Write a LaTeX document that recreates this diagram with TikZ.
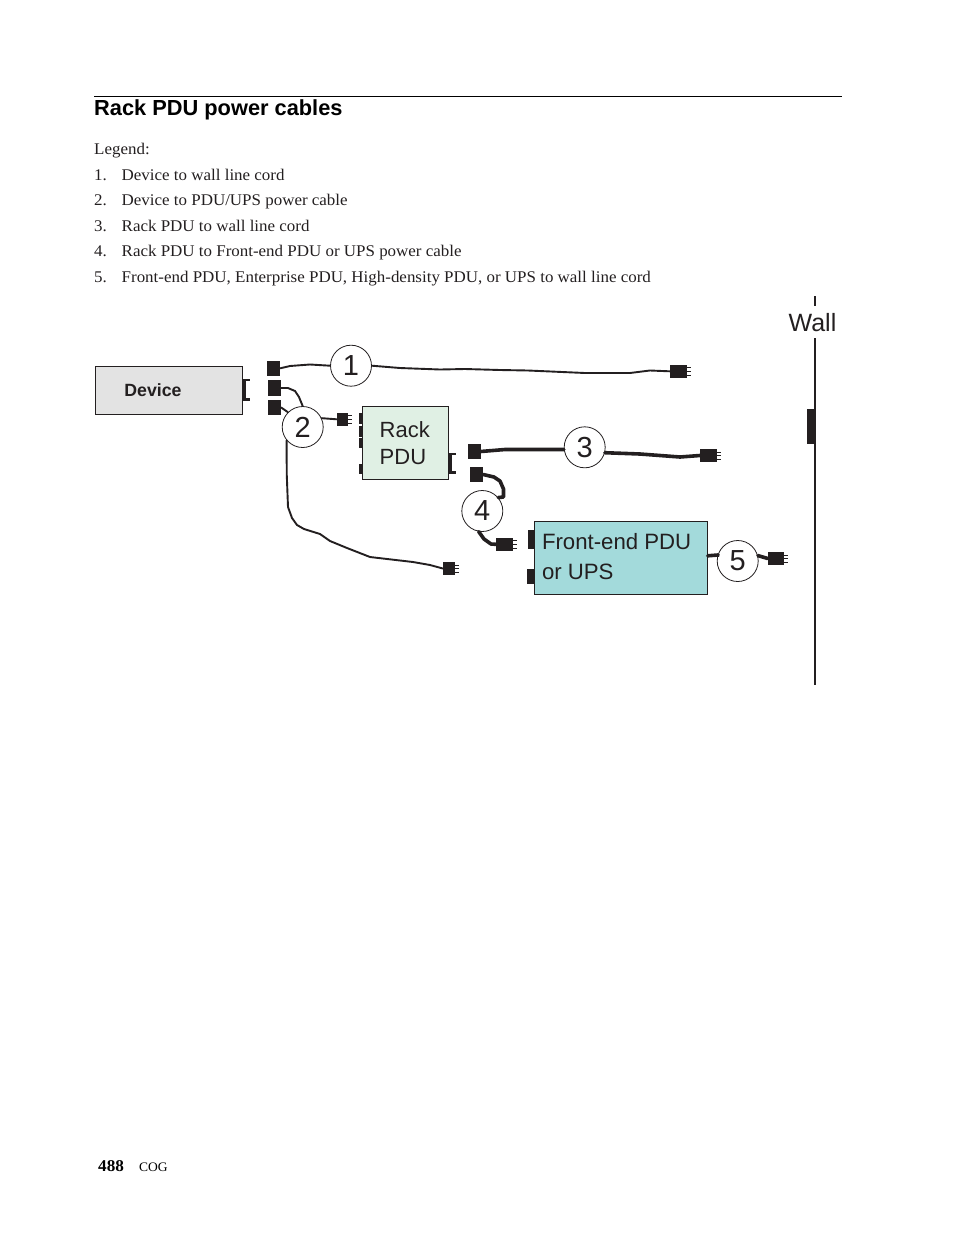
\documentclass[tikz,border=0pt]{standalone}
\usepackage{fontspec}
\setmainfont{Liberation Serif}[FakeStretch=1.04]
\setsansfont{Liberation Sans}
\usetikzlibrary{positioning}
\definecolor{inkdark}{HTML}{231F20}
\definecolor{devgray}{HTML}{E3E3E3}
\definecolor{rackgreen}{HTML}{E0F0E4}
\definecolor{upsblue}{HTML}{A3DADB}
\tikzset{
    plug/.style={fill=inkdark,inner sep=0pt,minimum width=#1},
    plug/.default=13pt,
    tab/.style={fill=inkdark,inner sep=0pt,minimum width=4pt},
    num/.style={circle,draw=inkdark,fill=white,line width=.8pt,minimum size=41pt,inner sep=0pt,
        font=\fontsize{29}{29}\sffamily,text=inkdark},
    cord/.style={draw=inkdark,line width=1.9pt,line join=round,line cap=round},
    cordthick/.style={cord,line width=3.6pt},
    boxlabel/.style={draw=inkdark,line width=.8pt,align=left,text=inkdark},
    bodytext/.style={anchor=base west,inner sep=0pt,font=\fontsize{16.3}{18}\selectfont,text=inkdark},
}
\begin{document}
\begin{tikzpicture}[x=1pt,y=-1pt]
    \useasboundingbox (0,0) rectangle (954,1235);

    % page text
    \draw [line width=.8pt] (94,96.5) -- (842,96.5);
    \node [anchor=base west,inner sep=0pt,font=\fontsize{21.8}{24}\sffamily\bfseries] (title) at (94,115.5) {Rack PDU power cables};
    \node [bodytext] (legend) at (94,154) {Legend:};
    \foreach \n/\y/\txt in {1/180/{Device to wall line cord},
                            2/205/{Device to PDU/UPS power cable},
                            3/231/{Rack PDU to wall line cord},
                            4/256/{Rack PDU to Front-end PDU or UPS power cable},
                            5/282/{Front-end PDU, Enterprise PDU, High-density PDU, or UPS to wall line cord}}{%
        \node [bodytext] (num\n) at (94,\y) {\n.};
        \node [bodytext] (item\n) at (121.5,\y) {\txt};}
    \node [anchor=base west,inner sep=0pt,font=\fontsize{16.5}{18}\bfseries] (page) at (98,1171) {488};
    \node [anchor=base west,inner sep=0pt,font=\fontsize{13}{14}\selectfont] (cog) at (139,1171) {COG};

    % boxes
    \node [draw=inkdark,fill=devgray,line width=.6pt,minimum width=147pt,minimum height=47.5pt,inner sep=0pt,
        font=\fontsize{17.7}{20}\sffamily\bfseries,text=inkdark] (device) at (169,390.3) {\hspace*{-32pt}Device};
    \draw [inkdark,line width=1.2pt] (device.south west) -- (device.south east) -- (device.north east);
    \node [boxlabel,fill=rackgreen,font=\fontsize{22}{27}\sffamily,minimum height=73pt,text width=52pt,
        inner xsep=17pt,inner ysep=4pt] (rack) at (405.7,442.8) {Rack\\PDU};
    \node [boxlabel,fill=upsblue,minimum height=73pt,minimum width=172.6pt,inner sep=0pt] (ups) at (621,557.8) {};
    \node [right=7.5pt of ups.west,yshift=1.5pt,inner sep=0pt,align=left,text=inkdark,
        font=\fontsize{22.2}{30}\sffamily] (upslabel) {Front-end PDU\\or UPS};

    % sockets on the boxes
    \foreach \name/\y/\h in {ra/418.5/11,rb/431.5/11,rc/443/10.5,rd/469/10}
        \node [tab,minimum height=\h pt,anchor=east] (\name) at (363,\y) {};
    \node [tab,minimum width=6.5pt,minimum height=19pt,anchor=east] (ua) at (ups.west |- 0,539.5) {};
    \node [tab,minimum width=7.5pt,minimum height=14.5pt,anchor=east] (ub) at (ups.west |- 0,576.7) {};
    \node [tab,minimum width=8pt,minimum height=35pt,anchor=east] (wallsocket) at (815,426.5) {};

    % wall
    \coordinate (walltop) at (815,296);
    \coordinate (wallgap) at (815,306);
    \coordinate (wallmid) at (815,338);
    \coordinate (wallend) at (815,685);
    \draw [inkdark,line width=1.6pt] (walltop) -- (wallgap) (wallmid) -- (wallend);
    \node [font=\fontsize{25}{28}\sffamily,text=inkdark,inner sep=0pt] (wall) at (812.5,322.5) {Wall};

    % brackets
    \draw [inkdark,line width=2.2pt] (device.east |- 0,380) -- +(7.5,0) (device.east |- 0,399.5) -- +(7.5,0);
    \draw [inkdark,line width=3pt] (244,379) -- (244,400.5);
    \draw [inkdark,line width=2.2pt] (rack.east |- 0,454) -- +(7,0) (rack.east |- 0,472.5) -- +(7,0);
    \draw [inkdark,line width=3pt] (450.5,453) -- (450.5,473.5);

    % plugs
    \node [plug,minimum height=14.5pt] (p1) at (273.5,368.3) {};
    \node [plug,minimum height=15.5pt] (p2a) at (274.5,388) {};
    \node [plug,minimum height=15pt] (p2b) at (274.5,407.5) {};
    \node [plug,minimum height=15pt] (p3) at (474,451.5) {};
    \node [plug,minimum height=15pt] (p4) at (476.5,474.5) {};
    \node [plug=11pt,minimum height=12.5pt] (e2a) at (342.5,419.3) {};
    \node [plug=12pt,minimum height=13pt] (e2b) at (449,568.5) {};
    \node [plug=17pt,minimum height=12.5pt] (e1) at (678.5,371.3) {};
    \node [plug=17pt,minimum height=12.5pt] (e3) at (708.5,455.5) {};
    \node [plug=17pt,minimum height=12.5pt] (e4) at (504.5,544.3) {};
    \node [plug=16pt,minimum height=12.5pt] (e5) at (776,558.5) {};
    \foreach \p in {e1,e2a,e2b,e3,e4,e5}{%
        \foreach \s in {-3.6,0,3.6}
            \draw [inkdark,line width=.8pt] ([yshift=\s pt]\p.east) -- +(3.5,0);}

    % numbers
    \node [num] (n1) at (351,365.7) {1};
    \node [num] (n2) at (302.7,427) {2};
    \node [num] (n3) at (584.7,447.3) {3};
    \node [num] (n4) at (482.3,511) {4};
    \node [num] (n5) at (737.7,561) {5};

    % cords
    \draw [cord] (p1.east) -- (290,366) -- (310,364.5) -- (n1.west);
    \draw [cord] (n1.east) -- (400,368) -- (440,369.5) -- (465,369) -- (500,370) -- (528,370.5)
        -- (585,373) -- (630,373) -- (650,370.5) -- (e1.west);
    \draw [cord] (p2a.east) -- (288,388) -- (295,391) -- (299,397) -- (n2.north);
    \draw [cord] (p2b.east) -- (n2.north west);
    \draw [cord] (n2.25) -- (e2a.west);
    \draw [cord] (n2.220) -- (286.7,473) -- (288,507) -- (292,518) -- (297,525) -- (304,529) -- (320,534)
        -- (330,541) -- (347,548) -- (370,557) -- (413,562) -- (430,565) -- (e2b.west);
    \draw [cordthick] (p3.east) -- (505,449.5) -- (n3.186);
    \draw [cordthick] (n3.-15) -- (640,454) -- (680,457) -- (e3.west);
    \draw [cordthick] (p4.east) -- (494,477) -- (500,481) -- (503.5,489) -- (503.5,497) -- (n4.40);
    \draw [cordthick] (n4.260) -- (484,539) -- (491,544) -- (e4.west);
    \draw [cordthick] ([yshift=2pt]ups.east) -- (718,555) -- (n5.165);
    \draw [cordthick] (n5.15) -- (e5.west);
\end{tikzpicture}
\end{document}
